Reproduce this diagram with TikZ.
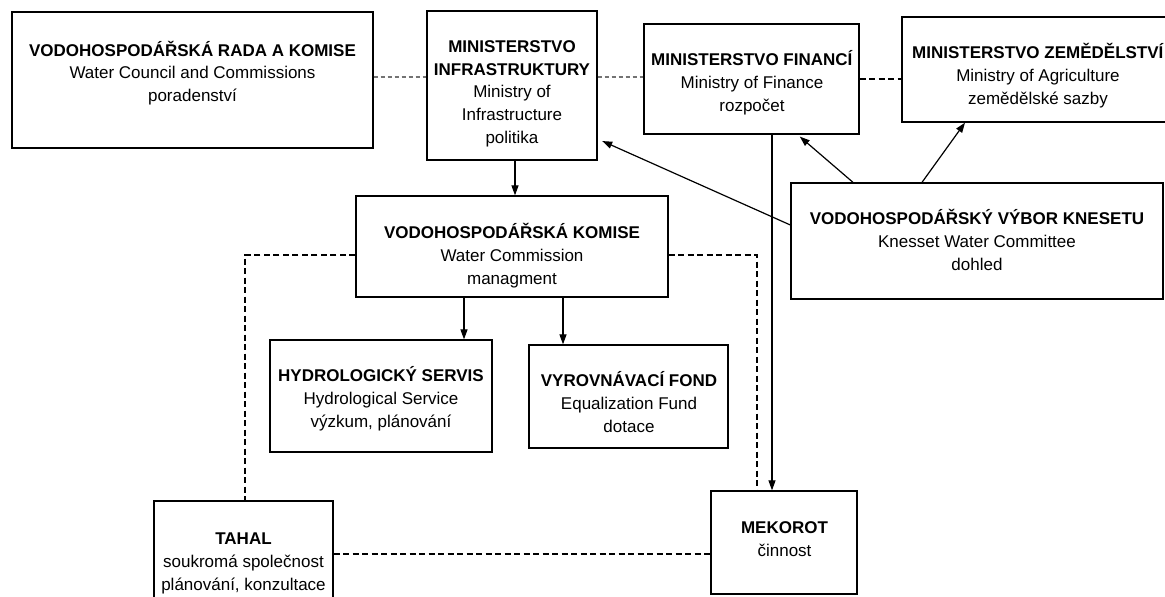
\documentclass[tikz,border=0pt]{standalone}
\usepackage{fontspec}
\setmainfont{Liberation Sans}
\usetikzlibrary{arrows.meta}
\newcommand\blk[1]{\begin{tabular}[t]{@{}c@{}}#1\end{tabular}}
\begin{document}
\begin{tikzpicture}[x=1pt,y=-1pt,
  box/.style={draw, line width=1.3pt, inner sep=0pt},
  txt/.style={anchor=base, inner sep=0pt, font=\fontsize{17}{23}\selectfont},
  arr/.style={line width=1.2pt, -{Triangle[length=10pt,width=7pt]}},
  gdash/.style={draw=black!55, line width=1.1pt, dash pattern=on 4pt off 3pt},
  bdash/.style={draw=black, line width=1.2pt, dash pattern=on 6pt off 3.5pt}]
\useasboundingbox (0,0) rectangle (1165,597);
\clip (0,0) rectangle (1165,597);
\fill[white] (0,0) rectangle (1165,597);

% boxes
\node[box, minimum width=361pt, minimum height=136pt] (vrk) at (192.5,80) {};
\node[box, minimum width=170pt, minimum height=149pt] (mi) at (512,85.5) {};
\node[box, minimum width=215pt, minimum height=110pt] (mf) at (751.5,79) {};
\node[box, minimum width=272pt, minimum height=105pt] (ma) at (1038,69.5) {};
\node[box, minimum width=372pt, minimum height=116pt] (kn) at (977,241) {};
\node[box, minimum width=312pt, minimum height=101pt] (vk) at (512,246.5) {};
\node[box, minimum width=222pt, minimum height=112pt] (hs) at (381,396) {};
\node[box, minimum width=199pt, minimum height=103pt] (ef) at (628.5,396.5) {};
\node[box, minimum width=179pt, minimum height=104pt] (tahal) at (243.5,553) {};
\node[box, minimum width=146pt, minimum height=103pt] (mek) at (784,542.5) {};

% texts
\node[txt] (vrkT) at (192.5,56) {\blk{\textbf{VODOHOSPODÁŘSKÁ RADA A KOMISE}\\Water Council and Commissions\\poradenství}};
\node[txt] (miT) at (512,52) {\blk{\textbf{MINISTERSTVO}\\\textbf{INFRASTRUKTURY}\\Ministry of\\Infrastructure\\politika}};
\node[txt] (mfT) at (752,65) {\blk{\textbf{MINISTERSTVO FINANCÍ}\\Ministry of Finance\\rozpočet}};
\node[txt] (maT) at (1038,58) {\blk{\textbf{MINISTERSTVO ZEMĚDĚLSTVÍ}\\Ministry of Agriculture\\zemědělské sazby}};
\node[txt] (knT) at (977,224) {\blk{\textbf{VODOHOSPODÁŘSKÝ VÝBOR KNESETU}\\Knesset Water Committee\\dohled}};
\node[txt] (vkT) at (512,238) {\blk{\textbf{VODOHOSPODÁŘSKÁ KOMISE}\\Water Commission\\managment}};
\node[txt] (hsT) at (381,381) {\blk{\textbf{HYDROLOGICKÝ SERVIS}\\Hydrological Service\\výzkum, plánování}};
\node[txt] (efT) at (629,386) {\blk{\textbf{VYROVNÁVACÍ FOND}\\Equalization Fund\\dotace}};
\node[txt] (tahalT) at (243.5,544) {\blk{\textbf{TAHAL}\\soukromá společnost\\plánování, konzultace}};
\node[txt] (mekT) at (784.5,533) {\blk{\textbf{MEKOROT}\\činnost}};

% dashed links at top
\coordinate (yl) at (0,77);
\draw[gdash] (vrk.east |- yl) -- (mi.west |- yl);
\draw[gdash] (mi.east |- yl) -- (mf.west |- yl);
\draw[bdash] (mf.east) -- (ma.west |- mf.east);

% arrows
\draw[arr] ([xshift=3pt]mi.south) -- ([xshift=3pt]vk.north);
\draw[arr] ([xshift=-48pt]vk.south) -- ([xshift=-48pt]vk.south |- hs.north);
\draw[arr] ([xshift=51pt]vk.south) -- ([xshift=51pt]vk.south |- ef.north);
\draw[arr, shorten >=3pt] ([xshift=-124pt]kn.north) -- ([xshift=46pt]mf.south);
\draw[arr] ([xshift=-55pt]kn.north) -- ([xshift=-73pt]ma.south);
\draw[arr, shorten >=5pt] ([yshift=16pt]kn.west) -- ([yshift=-53.5pt]mi.east);
\draw[arr, line width=1.1pt] ([xshift=20.5pt]mf.south) -- ([xshift=20.5pt]mf.south |- mek.north);

% dashed links below
\draw[bdash] ([yshift=-8.5pt]vk.west) -| ([xshift=1.5pt]tahal.north);
\draw[bdash] ([yshift=-8.5pt]vk.east) -| ([xshift=-27pt]mek.north);
\draw[bdash] ([yshift=-1pt]tahal.east) -- ([yshift=-1pt]tahal.east -| mek.west);
\end{tikzpicture}
\end{document}
